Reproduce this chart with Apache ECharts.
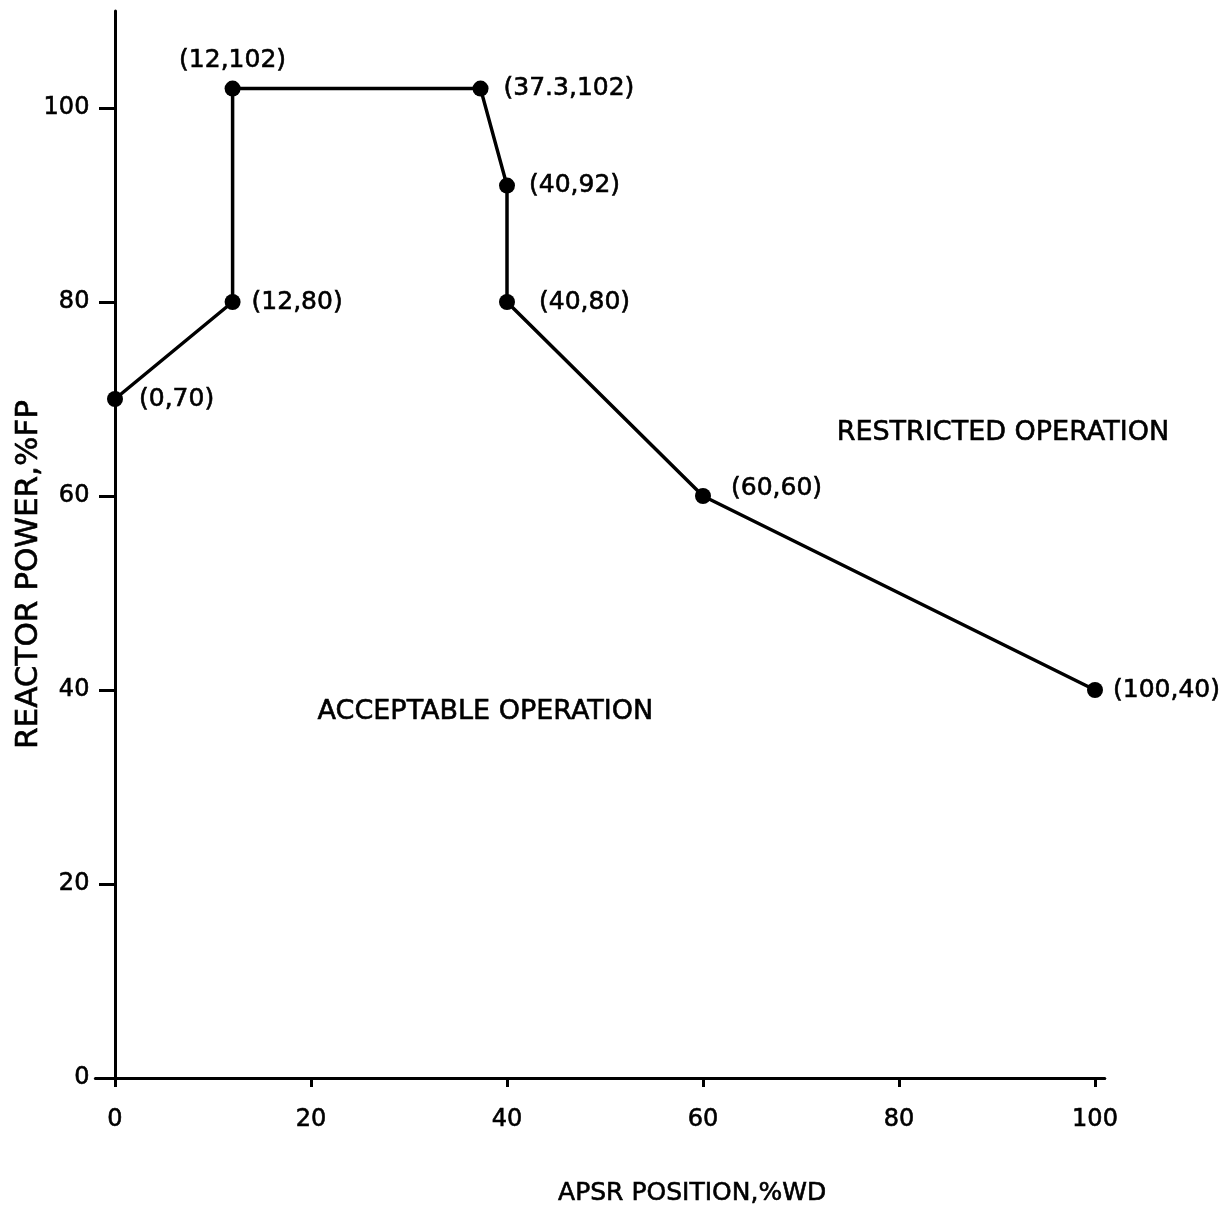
<!DOCTYPE html>
<html>
<head>
<meta charset="utf-8">
<script src="https://cdn.jsdelivr.net/npm/echarts@6/dist/echarts.min.js"></script>
<style>
  html, body { margin: 0; padding: 0; background: #fff; }
  #chart { width: 1232px; height: 1209px; }
</style>
</head>
<body>
<div id="chart"></div>
<script>
// ---- data ----
const xValues = [0, 12, 12, 37.3, 40, 40, 60, 100];
const yValues = [70, 80, 102, 102, 92, 80, 60, 40];
const pointLabels = ['(0,70)', '(12,80)', '(12,102)', '(37.3,102)', '(40,92)', '(40,80)', '(60,60)', '(100,40)'];
const xTicks = [0, 20, 40, 60, 80, 100];
const yTicks = [0, 20, 40, 60, 80, 100];
const regionNames = ['RESTRICTED OPERATION', 'ACCEPTABLE OPERATION'];
const regionX = [90.6, 37.8];
const regionY = [66.5, 37.7];
const xTitle = 'APSR POSITION,%WD';
const yTitle = 'REACTOR POWER,%FP';

// ---- label placement (style only) ----
const labelPlace = [
  { position: 'right', distance: 16 },
  { position: 'right', distance: 11 },
  { position: 'top', distance: 8 },
  { position: 'right', distance: 15 },
  { position: 'right', distance: 14 },
  { position: 'right', distance: 24 },
  { position: 'right', distance: 20, offset: [0, -8] },
  { position: 'right', distance: 10 }
];

const FONT = 'DejaVu Sans';
const INK = '#000';
const TXT = { fontFamily: FONT, color: INK, textBorderColor: INK, textBorderWidth: 0.6 };

const lineData = xValues.map((x, i) => ({
  value: [x, yValues[i]],
  name: pointLabels[i],
  label: Object.assign({ show: true, formatter: pointLabels[i] }, labelPlace[i])
}));

const regionData = regionNames.map((n, i) => ({ name: n, value: [regionX[i], regionY[i]] }));

const chart = echarts.init(document.getElementById('chart'), null, { renderer: 'canvas' });
chart.setOption({
  animation: false,
  backgroundColor: '#fff',
  grid: { left: 95.4, right: 127.2, top: 11, bottom: 131, containLabel: false, outerBoundsMode: 'none' },
  xAxis: {
    type: 'value',
    min: -2,
    max: 101,
    name: xTitle,
    nameLocation: 'middle',
    nameGap: 103,
    nameMoveOverlap: false,
    nameTextStyle: Object.assign({ fontSize: 25, padding: [0, 0, 0, 184] }, TXT),
    axisLine: { show: true, lineStyle: { color: INK, width: 3 } },
    axisTick: { show: true, customValues: xTicks, length: 9, lineStyle: { color: INK, width: 3 } },
    axisLabel: Object.assign({ customValues: xTicks, fontSize: 24, margin: 30 }, TXT),
    splitLine: { show: false }
  },
  yAxis: {
    type: 'value',
    min: 0,
    max: 110,
    name: yTitle,
    nameLocation: 'middle',
    nameGap: 51,
    nameMoveOverlap: false,
    nameTextStyle: Object.assign({ fontSize: 31, padding: [0, 60, 0, 0] }, TXT),
    axisLine: { show: true, onZero: true, lineStyle: { color: INK, width: 3 } },
    axisTick: { show: true, customValues: yTicks, length: 16, lineStyle: { color: INK, width: 3 } },
    axisLabel: Object.assign({ customValues: yTicks, fontSize: 24, margin: 6 }, TXT),
    splitLine: { show: false }
  },
  series: [
    {
      type: 'line',
      data: lineData,
      symbol: 'circle',
      symbolSize: 16,
      itemStyle: { color: INK },
      lineStyle: { color: INK, width: 3.5 },
      label: Object.assign({ fontSize: 25 }, TXT),
      z: 3
    },
    {
      type: 'scatter',
      data: regionData,
      symbolSize: 1,
      itemStyle: { color: '#fff', opacity: 1 },
      label: Object.assign({
        show: true,
        position: 'inside',
        formatter: p => p.name,
        fontSize: 27
      }, TXT),
      silent: true
    }
  ]
});
</script>
</body>
</html>
